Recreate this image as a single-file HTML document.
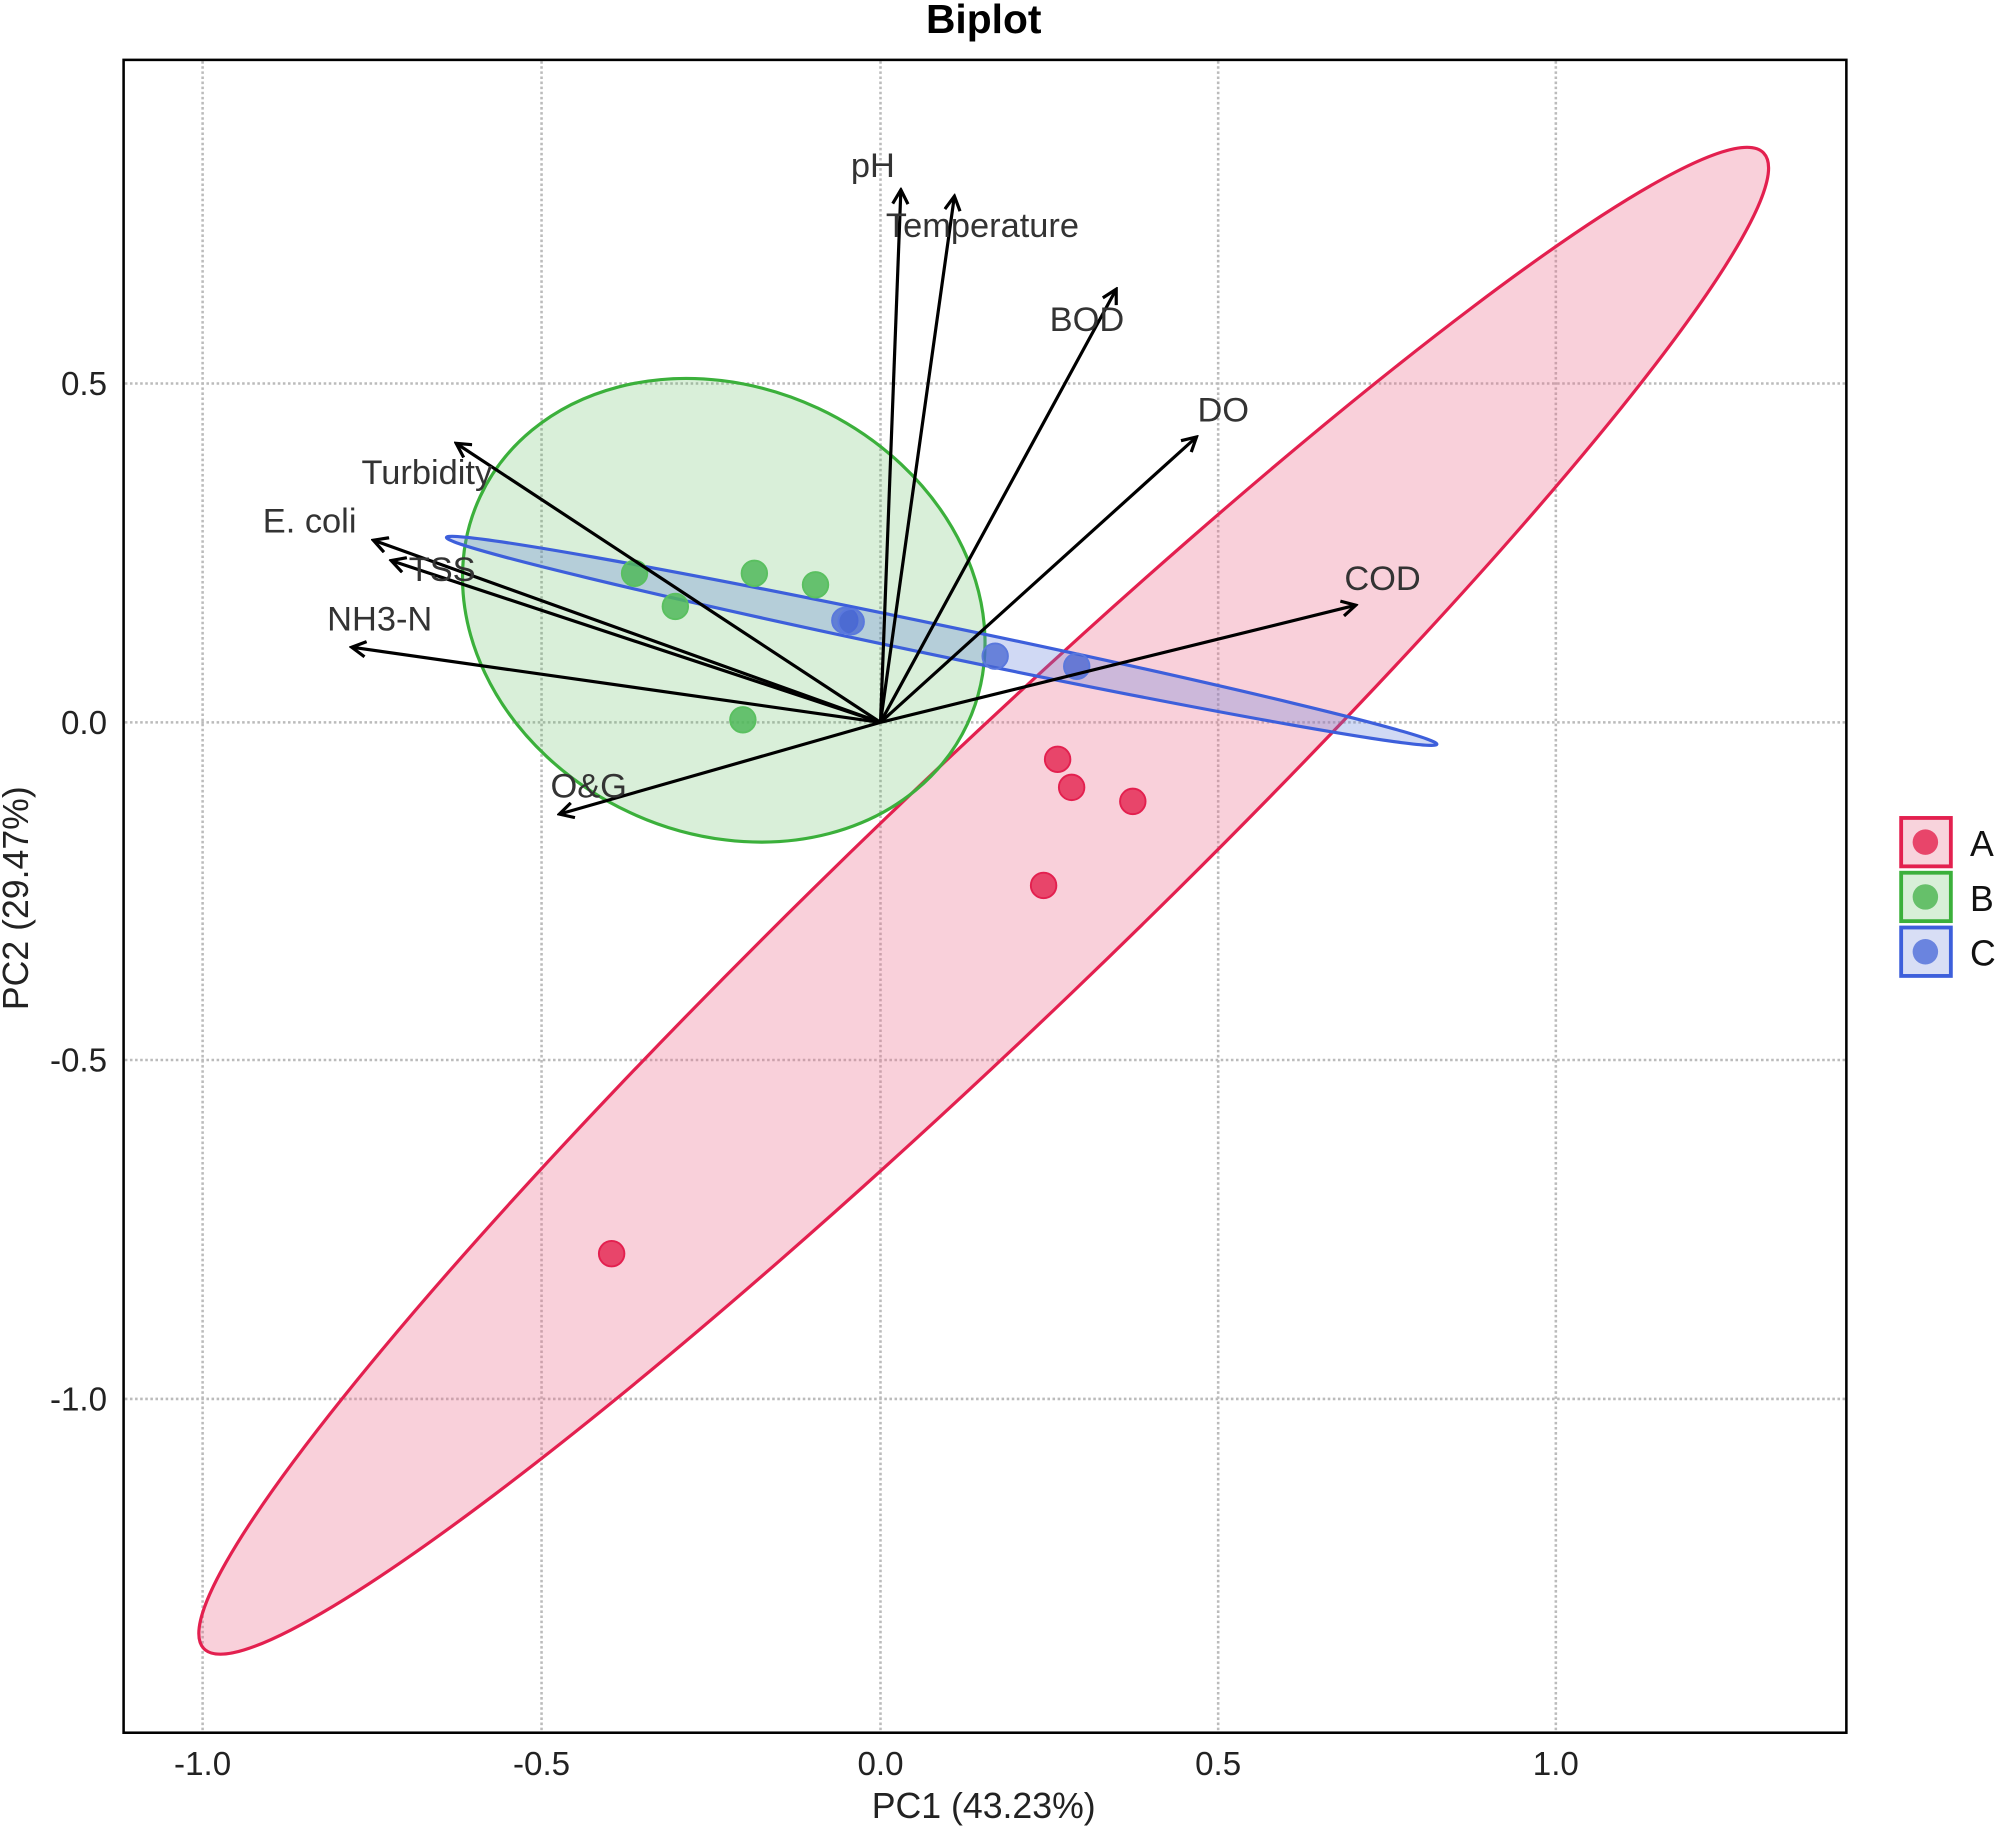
<!DOCTYPE html>
<html><head><meta charset="utf-8"><style>
html,body{margin:0;padding:0;background:#fff;}
svg{display:block;}
text{font-family:"Liberation Sans",sans-serif;}
</style></head><body>
<svg width="1998" height="1827" viewBox="0 0 1568 1434" preserveAspectRatio="none" xmlns="http://www.w3.org/2000/svg">
<defs><marker id="ah" markerWidth="14" markerHeight="14" refX="12" refY="7" orient="auto" markerUnits="userSpaceOnUse"><path d="M1,1 L12,7 L1,13" fill="none" stroke="#000" stroke-width="2.5"/></marker></defs>
<text x="772" y="26" text-anchor="middle" font-size="32" font-weight="bold">Biplot</text>
<g stroke="#bbb" stroke-width="2" stroke-dasharray="2,2">
<line x1="159" y1="48" x2="159" y2="1359"/><line x1="425" y1="48" x2="425" y2="1359"/><line x1="691" y1="48" x2="691" y2="1359"/><line x1="956" y1="48" x2="956" y2="1359"/><line x1="1221" y1="48" x2="1221" y2="1359"/>
<line x1="98" y1="301" x2="1448" y2="301"/><line x1="98" y1="567" x2="1448" y2="567"/><line x1="98" y1="832" x2="1448" y2="832"/><line x1="98" y1="1098" x2="1448" y2="1098"/>
</g>
<ellipse cx="772" cy="707" rx="848" ry="100" transform="rotate(-43.8 772 707)" fill="rgba(236,110,140,0.32)" stroke="#e3204f" stroke-width="2.5"/>
<ellipse cx="568" cy="479" rx="211" ry="175" transform="rotate(25 568 479)" fill="rgba(80,180,80,0.22)" stroke="#3bb03b" stroke-width="2.5"/>
<ellipse cx="739" cy="503" rx="397" ry="12" transform="rotate(11.8 739 503)" fill="rgba(100,130,220,0.3)" stroke="#3d5fdb" stroke-width="2.5"/>
<g fill="#e8456a" stroke="#e3204f" stroke-width="1.5">
<circle cx="830" cy="596" r="10"/><circle cx="841" cy="618" r="10"/><circle cx="889" cy="629" r="10"/><circle cx="819" cy="695" r="10"/><circle cx="480" cy="984" r="10"/></g>
<g fill="rgba(80,185,90,0.85)" stroke="#5ac060" stroke-width="1.5">
<circle cx="498" cy="450" r="10"/><circle cx="592" cy="450" r="10"/><circle cx="640" cy="459" r="10"/><circle cx="530" cy="476" r="10"/><circle cx="583" cy="565" r="10"/></g>
<g fill="rgba(70,100,210,0.75)" stroke="#5a78dd" stroke-width="1.5">
<circle cx="663" cy="487" r="10"/><circle cx="668" cy="488" r="10"/><circle cx="781" cy="515" r="10"/><circle cx="845" cy="523" r="10"/></g>
<g stroke="#000" stroke-width="2.5" marker-end="url(#ah)">
<line x1="691" y1="567" x2="707" y2="149"/><line x1="691" y1="567" x2="749" y2="154"/><line x1="691" y1="567" x2="876" y2="227"/><line x1="691" y1="567" x2="939" y2="343"/><line x1="691" y1="567" x2="1064" y2="475"/><line x1="691" y1="567" x2="358" y2="348"/><line x1="691" y1="567" x2="293" y2="424"/><line x1="691" y1="567" x2="307" y2="440"/><line x1="691" y1="567" x2="276" y2="508"/><line x1="691" y1="567" x2="439" y2="639"/>
</g>
<g font-size="27" fill="#333" text-anchor="middle">
<text x="685" y="139">pH</text><text x="771" y="186">Temperature</text><text x="853" y="260">BOD</text><text x="960" y="331">DO</text><text x="1085" y="463">COD</text><text x="335" y="380">Turbidity</text><text x="243" y="418">E. coli</text><text x="347" y="456">TSS</text><text x="298" y="495">NH3-N</text><text x="462" y="626">O&amp;G</text>
</g>
<rect x="97" y="47" width="1352" height="1313" fill="none" stroke="#000" stroke-width="2"/>
<g font-size="26" fill="#222" text-anchor="middle">
<text x="159" y="1393">-1.0</text><text x="425" y="1393">-0.5</text><text x="691" y="1393">0.0</text><text x="956" y="1393">0.5</text><text x="1221" y="1393">1.0</text></g>
<g font-size="26" fill="#222" text-anchor="end">
<text x="84" y="310">0.5</text><text x="84" y="576">0.0</text><text x="84" y="841">-0.5</text><text x="84" y="1107">-1.0</text></g>
<text x="772" y="1427" text-anchor="middle" font-size="28" fill="#222">PC1 (43.23%)</text>
<text x="22" y="705" text-anchor="middle" font-size="28" fill="#222" transform="rotate(-90 22 705)">PC2 (29.47%)</text>
<rect x="1492" y="642" width="39" height="38" fill="#f8d3dc" stroke="#e3204f" stroke-width="3"/><circle cx="1511" cy="661" r="10" fill="#e8456a"/>
<rect x="1492" y="685" width="39" height="38" fill="#d8efd8" stroke="#3bb03b" stroke-width="3"/><circle cx="1511" cy="704" r="10" fill="#66c06a"/>
<rect x="1492" y="728" width="39" height="38" fill="#d8def5" stroke="#3d5fdb" stroke-width="3"/><circle cx="1511" cy="747" r="10" fill="#6a84df"/>
<g font-size="28" fill="#111"><text x="1546" y="672">A</text><text x="1546" y="715">B</text><text x="1546" y="758">C</text></g>
</svg>
</body></html>
